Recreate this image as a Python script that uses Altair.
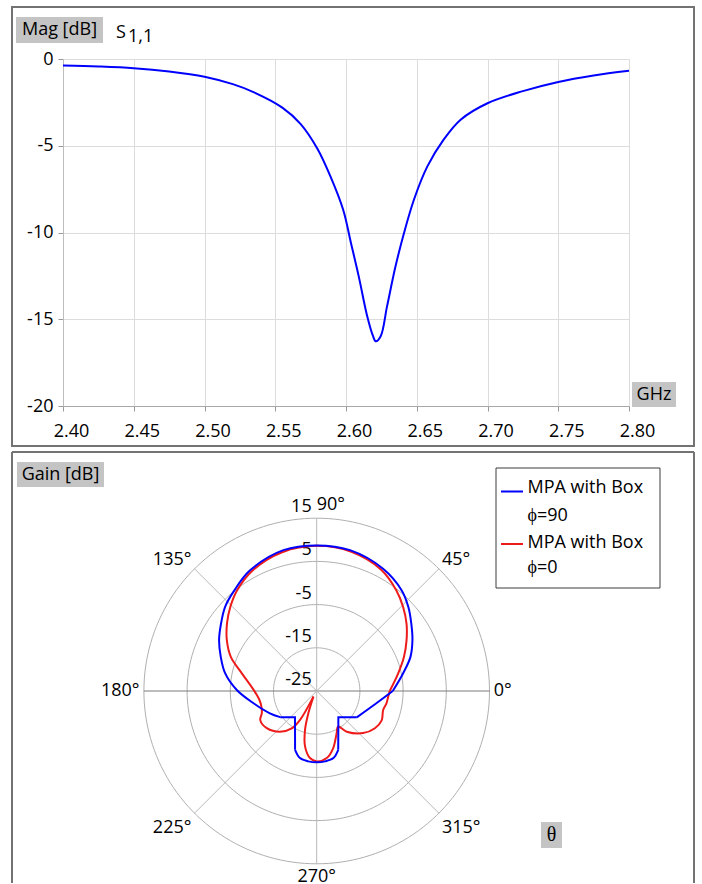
import altair as alt
import pandas as pd

FONT = "Open Sans"

# ---------------- S11 (top panel) ----------------
freq_ghz = [2.400, 2.425, 2.450, 2.475, 2.500, 2.520, 2.535, 2.555, 2.568, 2.580,
            2.589, 2.598, 2.6035, 2.609, 2.615, 2.619, 2.621, 2.6245, 2.629, 2.635,
            2.641, 2.648, 2.6575, 2.669, 2.681, 2.700, 2.725, 2.750, 2.775, 2.800]
s11_db = [-0.37, -0.43, -0.53, -0.72, -1.02, -1.45, -1.92, -2.80, -3.75, -5.20,
          -6.77, -8.69, -10.6, -12.53, -14.83, -15.95, -16.27, -15.98, -14.26, -11.95,
          -10.03, -8.11, -6.19, -4.65, -3.50, -2.55, -1.85, -1.32, -0.95, -0.68]
x_ticks = [2.40, 2.45, 2.50, 2.55, 2.60, 2.65, 2.70, 2.75, 2.80]
y_ticks = [-20, -15, -10, -5, 0]

# ---------------- Gain pattern (bottom panel) ----------------
theta_phi90 = [0, 11.5, 20, 28, 35.5, 42.6, 49.9, 61.5, 76.7, 90, 103.3, 118.9, 129.3,
               137.4, 144.8, 152.4, 160.3, 169, 179.3, 191, 205.5, 215.6, 230.5, 249.8,
               256, 263.2, 270, 276.8, 284, 290.1, 309.4, 326.7, 348.4, 360]
gain_phi90 = [-7.4, -4.6, -1.9, 0.1, 1.9, 3.8, 5.5, 7.2, 8.5, 8.7, 8.5, 6.9, 5.1,
              3.8, 2.1, 0.5, -1.4, -3.4, -6.5, -10.1, -13.0, -14.6, -17.1, -10.5,
              -9.0, -8.6, -8.5, -8.6, -9.0, -10.5, -17.1, -13.9, -10.9, -7.4]
theta_phi0 = [0, 12.2, 21.4, 29.5, 36.9, 44.2, 51.6, 62, 76, 90, 104, 118, 128.4,
              135.8, 143, 150.5, 158.3, 166.7, 179, 189.2, 196, 202, 207.3, 216.7,
              228, 236.2, 240, 239.5, 249.4, 253.3, 258.1, 264.3, 270, 278.5, 286,
              295.3, 301, 306.4, 317.8, 327.4, 335.7, 344, 350, 355.5, 360]
gain_phi0 = [-8.1, -5.7, -3.3, -1.1, 1.0, 2.9, 4.7, 6.8, 8.2, 8.6, 8.1, 6.6, 4.7,
             2.9, 1.0, -1.1, -3.6, -7.2, -10.4, -11.6, -11.7, -11.3, -10.3, -10.6,
             -12.3, -14.6, -17.3, -23.5, -19.5, -15.6, -11.9, -9.4, -8.7, -9.3, -11.2,
             -14.2, -15.4, -13.3, -10.5, -9.0, -8.5, -9.0, -8.6, -8.4, -8.1]

# runs of point indices: smooth curve pieces and straight (corner) pieces
runs_phi90 = [(0, 21, "catmull-rom"), (21, 23, "linear"), (23, 29, "catmull-rom"),
              (29, 31, "linear"), (31, 33, "catmull-rom")]
runs_phi0 = [(0, 27, "catmull-rom"), (27, 44, "catmull-rom")]

legend_line1 = ["MPA with Box", "MPA with Box"]
legend_line2 = ["\u03d5=90", "\u03d5=0"]
series_names = [a + " " + b for a, b in zip(legend_line1, legend_line2)]
series_colors = ["#0000ff", "#ee1b1b"]

ring_db = [-25, -15, -5, 5, 15]
angle_ticks = [0, 45, 90, 135, 180, 225, 270, 315]

FRAME = "#737373"
BOXFILL = "#c4c4c4"
one = alt.Data(values=[{"k": 1}])


def rect(x, x2, y, y2, **kw):
    return alt.Chart(one).mark_rect(**kw).encode(
        x=alt.value(x), x2=alt.value(x2), y=alt.value(y), y2=alt.value(y2))


def label(x, y, txt, **kw):
    opts = dict(fontSize=18, font=FONT, color="#000")
    opts.update(kw)
    return alt.Chart(one).mark_text(**opts).encode(
        x=alt.value(x), y=alt.value(y), text=alt.value(txt))


def hrule(x, x2, y, color, width):
    return alt.Chart(one).mark_rule(color=color, strokeWidth=width).encode(
        x=alt.value(x), x2=alt.value(x2), y=alt.value(y))


def vrule(x, y, y2, color, width):
    return alt.Chart(one).mark_rule(color=color, strokeWidth=width).encode(
        x=alt.value(x), y=alt.value(y), y2=alt.value(y2))


# ---------------- top chart ----------------
W1, H1 = 566, 347
df_s11 = pd.DataFrame({"f": freq_ghz, "mag": s11_db})
s11_line = alt.Chart(df_s11).mark_line(
    color="#0000ff", strokeWidth=2, interpolate="catmull-rom").encode(
    x=alt.X("f:Q", scale=alt.Scale(domain=[2.4, 2.8], nice=False, zero=False),
            axis=alt.Axis(values=x_ticks, format=".2f", title=None, grid=True,
                          gridColor="#dcdcdc", gridWidth=1, domainColor="#a8a8a8",
                          tickColor="#999999", tickSize=5, labelFontSize=18,
                          labelFont=FONT, labelColor="#000", labelPadding=11,
                          labelOffset=8, labelFlush=False)),
    y=alt.Y("mag:Q", scale=alt.Scale(domain=[-20, 0], nice=False, zero=False),
            axis=alt.Axis(values=y_ticks, labelExpr="'' + datum.value", title=None,
                          grid=True, gridColor="#dcdcdc", gridWidth=1,
                          domainColor="#bdbdbd", tickColor="#999999", tickSize=5,
                          labelFontSize=18, labelFont=FONT, labelColor="#000",
                          labelPadding=5, labelFlush=False)),
)

top = alt.layer(
    rect(-51, 631, -52, 387, fillOpacity=0, stroke=FRAME, strokeWidth=2),
    rect(-47, 40, -42, -16, fill=BOXFILL),
    label(-3.5, -29, "Mag [dB]", align="center", baseline="middle"),
    label(53, -21.5, "S", align="left", baseline="alphabetic"),
    label(65, -17.5, "1,1", align="left", baseline="alphabetic"),
    rect(569, 613, 323, 348, fill=BOXFILL),
    label(591, 335.5, "GHz", align="center", baseline="middle"),
    s11_line,
).properties(width=W1, height=H1)

# ---------------- bottom chart (polar) ----------------
# plot area shares its left edge with the top panel's plot area
W2, H2 = 566, 432
PXU = 4.32  # pixels per dB on the radial axis
cx_px, cy_px = 253.7, 239.0
xdom = [-cx_px / PXU, (W2 - cx_px) / PXU]
ydom = [-(H2 - cy_px) / PXU, cy_px / PXU]
r_outer = ring_db[-1] - ring_db[0]


def xs():
    return alt.Scale(domain=xdom, nice=False, zero=False)


def ys():
    return alt.Scale(domain=ydom, nice=False, zero=False)


rows = []
for name, th, gn in [(series_names[1], theta_phi0, gain_phi0),
                     (series_names[0], theta_phi90, gain_phi90)]:
    for i, (t, g) in enumerate(zip(th, gn)):
        rows.append({"theta": t, "gain": g, "series": name, "idx": i})
df_pat = pd.DataFrame(rows)

color_scale = alt.Scale(domain=series_names, range=series_colors)


def pattern_part(name, lo, hi, interp):
    return alt.Chart(df_pat).transform_filter(
        (alt.datum.series == name) & (alt.datum.idx >= lo) & (alt.datum.idx <= hi)
    ).transform_calculate(
        rr=f"datum.gain - ({ring_db[0]})"
    ).transform_calculate(
        cx="datum.rr * cos(datum.theta * PI / 180)",
        cy="datum.rr * sin(datum.theta * PI / 180)",
    ).mark_line(strokeWidth=2, interpolate=interp).encode(
        x=alt.X("cx:Q", scale=xs(), axis=None),
        y=alt.Y("cy:Q", scale=ys(), axis=None),
        color=alt.Color("series:N", scale=color_scale, legend=None),
        order="idx:Q",
    )


pattern_layers = ([pattern_part(series_names[1], *r) for r in runs_phi0] +
                  [pattern_part(series_names[0], *r) for r in runs_phi90])

# concentric grid circles: each ring is sampled along the angle by Vega itself
df_rings = pd.DataFrame({"db": ring_db[1:]})
rings = alt.Chart(df_rings).transform_calculate(
    rr=f"datum.db - ({ring_db[0]})", a="sequence(0, 361, 2)"
).transform_flatten(["a"]).transform_calculate(
    cx="datum.rr * cos(datum.a * PI / 180)",
    cy="datum.rr * sin(datum.a * PI / 180)",
).mark_line(strokeWidth=1, color="#b0b0b0").encode(
    x=alt.X("cx:Q", scale=xs(), axis=None),
    y=alt.Y("cy:Q", scale=ys(), axis=None),
    detail="db:N",
    order="a:Q",
)

df_ang = pd.DataFrame({"angle": angle_ticks})
spokes = alt.Chart(df_ang).transform_calculate(
    zero="0",
    ex=f"{r_outer} * cos(datum.angle * PI / 180)",
    ey=f"{r_outer} * sin(datum.angle * PI / 180)",
).mark_rule(strokeWidth=1).encode(
    x=alt.X("zero:Q", scale=xs(), axis=None),
    y=alt.Y("zero:Q", scale=ys(), axis=None),
    x2="ex:Q", y2="ey:Q",
    color=alt.condition("datum.angle % 180 == 0", alt.value("#7a7a7a"),
                        alt.value("#b8b8b8")),
)

df_rl = pd.DataFrame({"db": ring_db})
ring_labels = alt.Chart(df_rl).transform_calculate(
    rr=f"datum.db - ({ring_db[0]})", zero="0", lab="'' + datum.db"
).mark_text(align="right", baseline="middle", dx=-5, dy=-11, fontSize=18,
            font=FONT, color="#000").encode(
    x=alt.X("zero:Q", scale=xs(), axis=None),
    y=alt.Y("rr:Q", scale=ys(), axis=None),
    text="lab:N",
)


def angle_labels(cond, align):
    return alt.Chart(df_ang).transform_calculate(
        lab="datum.angle + '\u00b0'",
        c="cos(datum.angle * PI / 180)",
        s="sin(datum.angle * PI / 180)",
    ).transform_calculate(
        lx=f"({r_outer} + 1) * datum.c",
        ly=f"({r_outer} + 3) * datum.s - ((datum.s < -0.1 && datum.s > -0.9) ? 1.3 : 0)",
    ).transform_filter(cond).mark_text(
        align=align, baseline="middle", fontSize=18, font=FONT, color="#000",
        clip=True).encode(
        x=alt.X("lx:Q", scale=xs(), axis=None),
        y=alt.Y("ly:Q", scale=ys(), axis=None),
        text="lab:N",
    )


lab_left = angle_labels("datum.c > -0.1 && datum.angle != 270", "left")
lab_right = angle_labels("datum.c < -0.1", "right")
lab_center = angle_labels("datum.angle == 270", "center")

bottom = alt.layer(
    hrule(-51, 631, 0, FRAME, 2),
    vrule(-51, 0, H2 - 1, FRAME, 2),
    vrule(631, 0, H2 - 1, FRAME, 2),
    rect(-46, 41, 10, 35, fill=BOXFILL),
    label(-2.5, 22.5, "Gain [dB]", align="center", baseline="middle"),
    rings, spokes, ring_labels, lab_left, lab_right, lab_center,
    *pattern_layers,
    rect(433, 597, 16, 136, fill="white", stroke="#3c3c3c", strokeWidth=1),
    hrule(438, 460, 39.5, series_colors[0], 2),
    label(464.5, 36, legend_line1[0], align="left", baseline="middle"),
    label(464.5, 63.5, legend_line2[0], align="left", baseline="middle"),
    hrule(438, 460, 92, series_colors[1], 2),
    label(464.5, 90.5, legend_line1[1], align="left", baseline="middle"),
    label(464.5, 116, legend_line2[1], align="left", baseline="middle"),
    rect(478, 499, 370, 396, fill=BOXFILL),
    label(488.5, 383, "\u03b8", align="center", baseline="middle",
          font="Liberation Serif", fontSize=20),
).properties(width=W2, height=H2)

chart = alt.vconcat(top, bottom, spacing=4).properties(
    padding={"left": 11, "top": 6, "right": 0, "bottom": 0}
).configure(font=FONT).configure_view(strokeWidth=0)

chart.save("out.html", embed_options={"renderer": "svg", "actions": False})
